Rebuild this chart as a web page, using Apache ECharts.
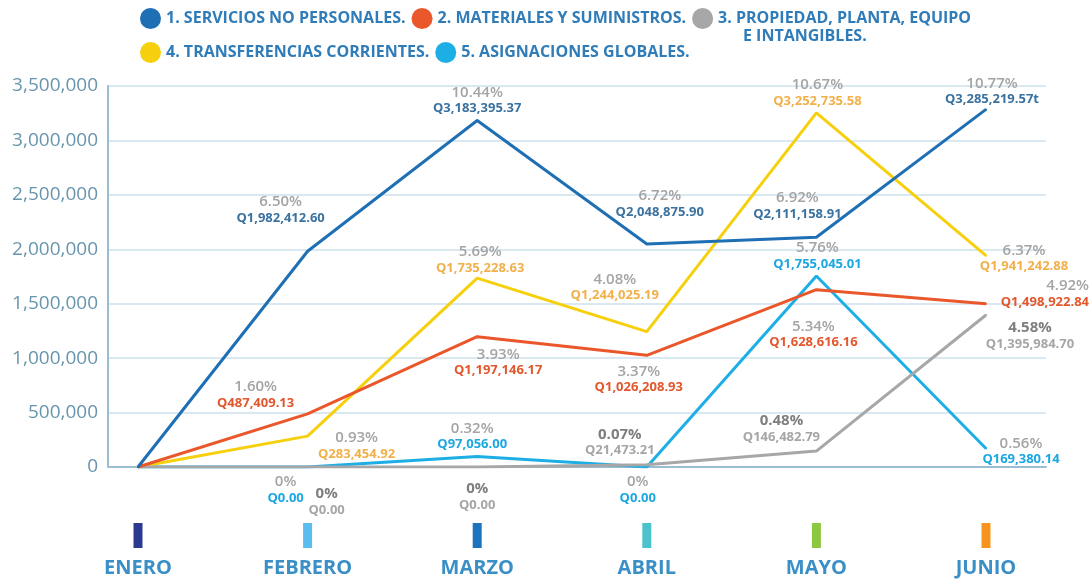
<!DOCTYPE html>
<html lang="es">
<head>
    <meta charset="UTF-8">
    <title>Ejecución por grupo de gasto</title>
    <script type="text/javascript" src="https://cdn.jsdelivr.net/npm/echarts@6/dist/echarts.min.js"></script>
    <style>
        html, body { margin: 0; padding: 0; background: #fff; }
    </style>
</head>
<body>
<div id="grafica" style="width: 1092px;height: 580px"></div>
<script type="text/javascript">

    // meses
    var meses = ['ENERO', 'FEBRERO', 'MARZO', 'ABRIL', 'MAYO', 'JUNIO'];
    var coloresMes = ['#2b3990', '#5bbdee', '#1c75bc', '#4cc2cd', '#8dc63f', '#f7941d'];

    // nombres de los grupos
    var grupos = [
        '1. SERVICIOS NO PERSONALES.',
        '2. MATERIALES Y SUMINISTROS.',
        '3. PROPIEDAD, PLANTA, EQUIPO E INTANGIBLES.',
        '4. TRANSFERENCIAS CORRIENTES.',
        '5. ASIGNACIONES GLOBALES.'
    ];
    var coloresGrupo = ['#1f6fb4', '#e9572b', '#a7a7a7', '#f6d00d', '#1eaee6'];

    // montos (Q)
    var serviciosNoPersonales = [0, 1982412.60, 3183395.37, 2048875.90, 2111158.91, 3285219.57];
    var materialesSuministros = [0, 487409.13, 1197146.17, 1026208.93, 1628616.16, 1498922.84];
    var propiedadPlanta = [0, 0, 0, 21473.21, 146482.79, 1395984.70];
    var transferencias = [0, 283454.92, 1735228.63, 1244025.19, 3252735.58, 1941242.88];
    var asignaciones = [0, 0, 97056.00, 0, 1755045.01, 169380.14];

    // porcentajes
    var pctServicios = [null, 6.50, 10.44, 6.72, 6.92, 10.77];
    var pctMateriales = [null, 1.60, 3.93, 3.37, 5.34, 4.92];
    var pctPropiedad = [null, 0, 0, 0.07, 0.48, 4.58];
    var pctTransferencias = [null, 0.93, 5.69, 4.08, 10.67, 6.37];
    var pctAsignaciones = [null, 0, 0.32, 0, 5.76, 0.56];

    var montos = [serviciosNoPersonales, materialesSuministros, propiedadPlanta, transferencias, asignaciones];
    var porcentajes = [pctServicios, pctMateriales, pctPropiedad, pctTransferencias, pctAsignaciones];

    // ubicacion de las etiquetas respecto al punto
    var desplazamientos = [
        [null, [-27, -41], [0, -20], [13, -40], [-19, -31], [6, -18]],
        [null, [-52, -19], [21, 26], [-8, 24], [-3, 45], [103, -10]],
        [null, [19, 35], [0, 30], [-27, -22], [-35, -22], [44, 21]],
        [null, [49, 10], [3, -18], [-32, -44], [1, -20], [38, 3]],
        [null, [-22, 23], [-5, -20], [-9, 23], [1, -20], [35, 3]]
    ];
    var colorMonto = ['#3a72a0', '#e2572c', '#a6a6a6', '#f2b04a', '#1ba7e1'];
    var colorPct = ['#a4a4a4', '#a4a4a4', '#7e7e7e', '#a4a4a4', '#a4a4a4'];

    var fuente = '"Open Sans", "Noto Sans", sans-serif';

    function formatoQ(v) {
        return 'Q' + v.toLocaleString('en-US', {minimumFractionDigits: 2, maximumFractionDigits: 2});
    }
    function formatoPct(v) {
        return v === 0 ? '0%' : v.toFixed(2) + '%';
    }

    var series = [];
    for (var i = 0; i < grupos.length; i++) {
        (function (i) {
            var datos = montos[i].map(function (v, j) {
                if (j === 0) {
                    return {value: v, label: {show: false}};
                }
                var lab = {offset: desplazamientos[i][j]};
                if (i === 1 && j === 5) {
                    lab.align = 'right';
                }
                return {value: v, label: lab};
            });
            series.push({
                name: grupos[i],
                type: 'line',
                xAxisIndex: 1,
                yAxisIndex: 1,
                data: datos,
                symbol: 'circle',
                symbolSize: 2,
                lineStyle: {width: 3, color: coloresGrupo[i]},
                itemStyle: {color: coloresGrupo[i]},
                z: 10 - i,
                label: {
                    show: true,
                    position: 'inside',
                    formatter: function (p) {
                        var t = formatoQ(p.value);
                        if (i === 0 && p.dataIndex === 5) t += 't';
                        return '{p|' + formatoPct(porcentajes[i][p.dataIndex]) + '}\n{a|' + t + '}';
                    },
                    rich: {
                        p: {fontFamily: fuente, fontSize: 15, fontWeight: i === 2 ? 'bold' : 600, color: colorPct[i], lineHeight: 16},
                        a: {fontFamily: fuente, fontSize: 13, fontWeight: 'bold', color: colorMonto[i], lineHeight: 16}
                    }
                },
                emphasis: {disabled: true}
            });
        })(i);
    }

    var richMes = {t: {fontFamily: fuente, fontSize: 20, fontWeight: 'bold', color: '#3a8fc6', lineHeight: 40}};
    coloresMes.forEach(function (c, k) {
        richMes['b' + k] = {width: 9, height: 25, lineHeight: 25, backgroundColor: c};
    });

    var leyendaTexto = {fontFamily: fuente, fontSize: 16, fontWeight: 'bold', color: '#2f7cb8'};

    var myChart = echarts.init(document.getElementById('grafica'));
    var option = {
        animation: false,
        legend: [
            {
                data: grupos.slice(0, 3),
                left: 140, top: 8, padding: 0,
                icon: 'circle', itemWidth: 21, itemHeight: 21, itemGap: 6,
                selectedMode: false,
                textStyle: leyendaTexto,
                formatter: function (n) {
                    return n === grupos[2] ? '3. PROPIEDAD, PLANTA, EQUIPO' : n;
                }
            },
            {
                data: grupos.slice(3),
                left: 140, top: 42, padding: 0,
                icon: 'circle', itemWidth: 21, itemHeight: 21, itemGap: 6,
                selectedMode: false,
                textStyle: leyendaTexto
            }
        ],
        graphic: [{
            type: 'text', left: 743, top: 28,
            style: {text: 'E INTANGIBLES.', font: 'bold 16px ' + fuente, fill: '#2f7cb8'}
        }],
        grid: [
            {left: 108, right: 46, top: 86, bottom: 113},
            {left: 138, right: 106, top: 86, bottom: 113}
        ],
        xAxis: [
            {
                gridIndex: 0, type: 'value', min: 0, max: 1,
                axisLine: {show: true, lineStyle: {color: '#9bbdd1', width: 2}},
                axisTick: {show: false}, axisLabel: {show: false}, splitLine: {show: false}
            },
            {
                gridIndex: 1, type: 'category', data: meses, boundaryGap: false,
                axisLine: {show: false}, axisTick: {show: false}, splitLine: {show: false},
                axisLabel: {
                    margin: 56,
                    interval: 0,
                    formatter: function (v, k) {
                        return '{b' + k + '|}\n{t|' + v + '}';
                    },
                    rich: richMes
                }
            }
        ],
        yAxis: [
            {
                gridIndex: 0, type: 'value', min: 0, max: 3500000, interval: 500000,
                axisLine: {show: true, lineStyle: {color: '#9bbdd1', width: 2}},
                axisTick: {show: false},
                axisLabel: {
                    fontFamily: fuente, fontSize: 19, color: '#6895ad', margin: 10,
                    formatter: function (v) { return v.toLocaleString('en-US'); }
                },
                splitLine: {lineStyle: {color: '#dae8f1', width: 2}}
            },
            {
                gridIndex: 1, type: 'value', min: 0, max: 3500000, interval: 500000,
                show: false
            }
        ],
        series: series
    };
    myChart.setOption(option, true);
</script>
</body>
</html>
